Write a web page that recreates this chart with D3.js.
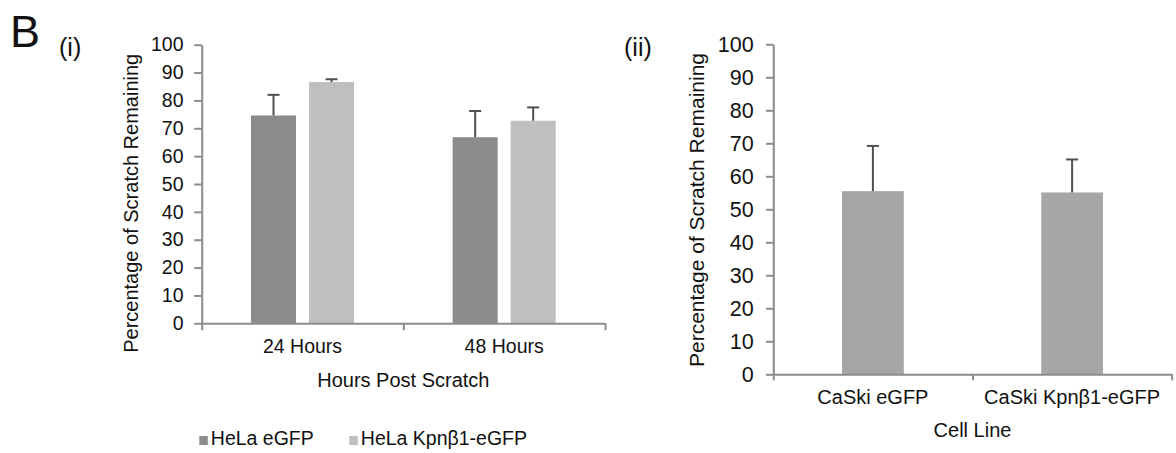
<!DOCTYPE html>
<html>
<head>
<meta charset="utf-8">
<script src="https://cdn.jsdelivr.net/npm/d3@7"></script>
<style>
  body { margin: 0; background: #fff; }
  svg text { font-family: "Liberation Sans", Arial, sans-serif; fill: #111; }
</style>
</head>
<body>
<svg id="chart" width="1176" height="453"></svg>
<script>
// panel (i) data: HeLa cells
var timepoints = ["24 Hours", "48 Hours"];
var helaSeries = ["HeLa eGFP", "HeLa Kpn\u03b21-eGFP"];
var helaEgfp = [74.6, 66.8];
var helaEgfpErr = [7.4, 9.4];
var helaKpn = [86.6, 72.7];
var helaKpnErr = [1.0, 4.8];

// panel (ii) data: CaSki cells
var caskiLines = ["CaSki eGFP", "CaSki Kpn\u03b21-eGFP"];
var caskiMeans = [55.5, 55.1];
var caskiErr = [13.7, 10.0];

var yTicks = [0, 10, 20, 30, 40, 50, 60, 70, 80, 90, 100];

var axisColor = "#8c8c8c";
var errColor = "#505050";
var helaColors = ["#8c8c8c", "#bfbfbf"];
var caskiColor = "#a6a6a6";

var svg = d3.select("#chart");

// letters of the figure
svg.append("text").attr("x", 10).attr("y", 47).style("font-size", "45px").text("B");
svg.append("text").attr("x", 59).attr("y", 55.5).style("font-size", "25px").text("(i)");
svg.append("text").attr("x", 624).attr("y", 56).style("font-size", "25px").text("(ii)");

function styleAxis(g) {
    g.selectAll("path, line").attr("stroke", axisColor).attr("stroke-width", 2);
}

function drawErr(g, cx, yTop, yBase) {
    g.append("line").attr("x1", cx).attr("x2", cx).attr("y1", yBase).attr("y2", yTop)
        .attr("stroke", errColor).attr("stroke-width", 2);
    g.append("line").attr("x1", cx - 6).attr("x2", cx + 6).attr("y1", yTop).attr("y2", yTop)
        .attr("stroke", errColor).attr("stroke-width", 2);
}

// ---------- panel (i) ----------
var y1 = d3.scaleLinear().domain([0, 100]).range([323.3, 44.7]);
var x0 = d3.scaleBand().domain(timepoints).range([201.7, 605]);
var xs = d3.scaleBand().domain(helaSeries).range([0, x0.bandwidth()]).paddingInner(0.224).paddingOuter(0.85);
var xEdge1 = d3.scaleLinear().domain([0, timepoints.length]).range(x0.range());

var gy1 = svg.append("g").attr("transform", "translate(" + x0.range()[0] + ",0)")
    .call(d3.axisLeft(y1).tickValues(yTicks).tickSize(7.5).tickSizeOuter(0).tickPadding(10.7));
gy1.selectAll("text").style("font-size", "19.5px").attr("fill", "#111");
styleAxis(gy1);

var helaData = [
    { name: helaSeries[0], vals: helaEgfp, errs: helaEgfpErr, color: helaColors[0] },
    { name: helaSeries[1], vals: helaKpn, errs: helaKpnErr, color: helaColors[1] }
];

var bars1 = svg.append("g");
helaData.forEach(function (s) {
    timepoints.forEach(function (t, i) {
        var bx = x0(t) + xs(s.name);
        bars1.append("rect")
            .attr("x", bx).attr("width", xs.bandwidth())
            .attr("y", y1(s.vals[i])).attr("height", y1(0) - y1(s.vals[i]))
            .attr("fill", s.color);
        drawErr(bars1, bx + xs.bandwidth() / 2, y1(s.vals[i] + s.errs[i]), y1(s.vals[i]));
    });
});

var gx1 = svg.append("g").attr("transform", "translate(0," + y1(0) + ")")
    .call(d3.axisBottom(xEdge1).tickValues(d3.range(timepoints.length + 1)).tickFormat("").tickSize(7).tickSizeOuter(0));
styleAxis(gx1);

svg.append("g").selectAll("text").data(timepoints).enter().append("text")
    .attr("x", function (d) { return x0(d) + x0.bandwidth() / 2; })
    .attr("y", 353.3)
    .attr("text-anchor", "middle").style("font-size", "19.5px")
    .text(function (d) { return d; });

svg.append("text").attr("x", (x0.range()[0] + x0.range()[1]) / 2).attr("y", 386.7)
    .attr("text-anchor", "middle").style("font-size", "20px").text("Hours Post Scratch");

svg.append("text").attr("transform", "translate(138,203.3) rotate(-90)")
    .attr("text-anchor", "middle").style("font-size", "20px").text("Percentage of Scratch Remaining");

// legend
var legendX = [199.3, 349.3];
var legend = svg.append("g");
helaData.forEach(function (s, i) {
    legend.append("rect").attr("x", legendX[i]).attr("y", 436).attr("width", 8.5).attr("height", 9).attr("fill", s.color);
    legend.append("text").attr("x", legendX[i] + 11.5).attr("y", 445).style("font-size", "19.5px").text(s.name);
});

// ---------- panel (ii) ----------
var y2 = d3.scaleLinear().domain([0, 100]).range([374.3, 44.3]);
var xc = d3.scaleBand().domain(caskiLines).range([773.3, 1171.7]).paddingInner(0.69).paddingOuter(0.345);
var xBand2 = d3.scaleBand().domain(caskiLines).range(xc.range());
var xEdge2 = d3.scaleLinear().domain([0, caskiLines.length]).range(xc.range());

var gy2 = svg.append("g").attr("transform", "translate(" + xc.range()[0] + ",0)")
    .call(d3.axisLeft(y2).tickValues(yTicks).tickSize(7.3).tickSizeOuter(0).tickPadding(12.4));
gy2.selectAll("text").style("font-size", "21.5px").attr("fill", "#111");
styleAxis(gy2);

var bars2 = svg.append("g");
caskiLines.forEach(function (c, i) {
    bars2.append("rect")
        .attr("x", xc(c)).attr("width", xc.bandwidth())
        .attr("y", y2(caskiMeans[i])).attr("height", y2(0) - y2(caskiMeans[i]))
        .attr("fill", caskiColor);
    drawErr(bars2, xc(c) + xc.bandwidth() / 2, y2(caskiMeans[i] + caskiErr[i]), y2(caskiMeans[i]));
});

var gx2 = svg.append("g").attr("transform", "translate(0," + y2(0) + ")")
    .call(d3.axisBottom(xEdge2).tickValues(d3.range(caskiLines.length + 1)).tickFormat("").tickSize(6).tickSizeOuter(0));
styleAxis(gx2);

svg.append("g").selectAll("text").data(caskiLines).enter().append("text")
    .attr("x", function (d) { return xBand2(d) + xBand2.bandwidth() / 2; })
    .attr("y", 404)
    .attr("text-anchor", "middle").style("font-size", "20px")
    .text(function (d) { return d; });

svg.append("text").attr("x", (xc.range()[0] + xc.range()[1]) / 2).attr("y", 437.3)
    .attr("text-anchor", "middle").style("font-size", "20px").text("Cell Line");

svg.append("text").attr("transform", "translate(703.5,210) rotate(-90)")
    .attr("text-anchor", "middle").style("font-size", "21px").text("Percentage of Scratch Remaining");
</script>
</body>
</html>
